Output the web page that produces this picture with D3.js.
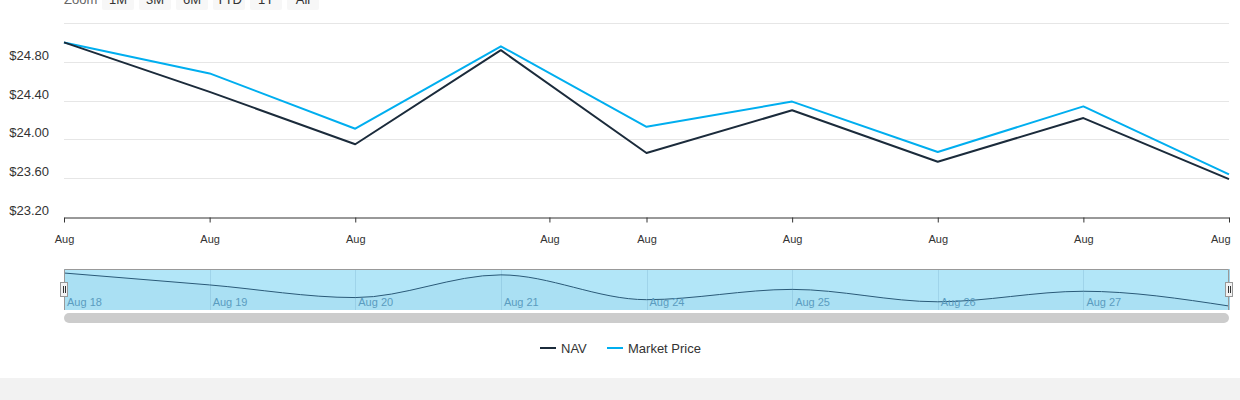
<!DOCTYPE html>
<html>
<head>
<meta charset="utf-8">
<script src="https://cdn.jsdelivr.net/npm/d3@7"></script>
<style>
  html, body { margin: 0; padding: 0; background: #fff; }
  svg { display: block; font-family: "Liberation Sans", Arial, sans-serif; }
</style>
</head>
<body>
<div id="chart"></div>
<script>

// data
const dates = ["2020-08-18","2020-08-19","2020-08-20","2020-08-21","2020-08-24",
	"2020-08-25","2020-08-26","2020-08-27","2020-08-28"];
const nav = [25.00, 24.49, 23.95, 24.92, 23.86, 24.30, 23.77, 24.22, 23.59];
const marketPrice = [25.00, 24.68, 24.11, 24.96, 24.13, 24.39, 23.87, 24.34, 23.64];
const yTicks = [23.2, 23.6, 24.0, 24.4, 24.8, 25.2];
const xTickDates = ["2020-08-18","2020-08-19","2020-08-20","2020-08-22","2020-08-24",
	"2020-08-25","2020-08-26","2020-08-27","2020-08-28"];
const zoomButtons = ["1M","3M","6M","YTD","1Y","All"];

const parse = d3.timeParse("%Y-%m-%d");
const days = dates.map(parse);

const width = 1240, height = 400;
const left = 64, right = 1229;
const step = (right - left) / (days.length - 1);

const svg = d3.select("#chart").append("svg")
	.attr("width", width)
	.attr("height", height);

// ordinal-like x scale (gaps for weekends are squeezed out)
const x = d3.scaleLinear()
	.domain(days)
	.range(days.map((d,i) => left + i*step));

const y = d3.scaleLinear()
	.domain([23.2, 25.2])
	.range([217, 23]);

// range selector
const rs = svg.append("g");
rs.append("text")
	.attr("x", left).attr("y", 4)
	.attr("font-size", 13).attr("fill", "#666")
	.text("Zoom");
const btn = rs.selectAll(".btn")
	.data(zoomButtons)
	.enter().append("g")
	.attr("transform", (d,i) => `translate(${102 + i*37},-12)`);
btn.append("rect")
	.attr("width", 32).attr("height", 22).attr("rx", 2)
	.attr("fill", "#f7f7f7");
btn.append("text")
	.attr("x", 16).attr("y", 16)
	.attr("text-anchor", "middle")
	.attr("font-size", 13).attr("fill", "#333")
	.text(d => d);

// grid
svg.append("g")
	.selectAll("line")
	.data(yTicks.filter(d => d > 23.2))
	.enter().append("line")
	.attr("x1", left).attr("x2", right)
	.attr("y1", d => Math.round(y(d)) + 0.5)
	.attr("y2", d => Math.round(y(d)) + 0.5)
	.attr("stroke", "#e6e6e6");

// y labels (last one hidden)
svg.append("g")
	.selectAll("text")
	.data(yTicks.slice(0, -1))
	.enter().append("text")
	.attr("x", 49)
	.attr("y", d => y(d) - 2)
	.attr("text-anchor", "end")
	.attr("font-size", 13)
	.attr("fill", "#333")
	.text(d => "$" + d.toFixed(2));

// x axis
const xAxis = d3.axisBottom(x)
	.tickValues(xTickDates.map(parse))
	.tickFormat(d3.timeFormat("%b"))
	.tickSize(5)
	.tickSizeOuter(0)
	.tickPadding(13);

const gx = svg.append("g")
	.attr("transform", "translate(0,217.5)")
	.call(xAxis);
gx.select(".domain").attr("stroke", "#333");
gx.selectAll(".tick line").attr("stroke", "#333");
gx.selectAll(".tick text")
	.attr("font-size", 11)
	.attr("font-family", "Liberation Sans, Arial, sans-serif")
	.attr("fill", "#333");
// keep the last label inside the plot
gx.selectAll(".tick text")
	.filter((d,i,n) => i === n.length - 1)
	.attr("text-anchor", "end")
	.attr("dx", 1);

// series
const series = [
	{name: "NAV", values: nav, color: "#1b2b3b"},
	{name: "Market Price", values: marketPrice, color: "#00aeef"}
];

const line = d3.line()
	.x((d,i) => x(days[i]))
	.y(d => y(d));

svg.append("g")
	.selectAll("path")
	.data(series.slice().reverse())
	.enter().append("path")
	.attr("d", d => line(d.values))
	.attr("fill", "none")
	.attr("stroke", d => d.color)
	.attr("stroke-width", 2)
	.attr("stroke-linejoin", "round");

// navigator
const navTop = 269, navBottom = 310;
const ny = d3.scaleLinear()
	.domain(d3.extent(nav))
	.range([306, 273]);

const ng = svg.append("g");
ng.append("rect")
	.attr("x", left).attr("y", navTop)
	.attr("width", right - left).attr("height", navBottom - navTop)
	.attr("fill", "#b2e6f8");

ng.selectAll(".ngrid")
	.data(days)
	.enter().append("line")
	.attr("x1", d => Math.round(x(d)) + 0.5)
	.attr("x2", d => Math.round(x(d)) + 0.5)
	.attr("y1", navTop).attr("y2", navBottom)
	.attr("stroke", "#9fd4ea");

const area = d3.area()
	.x((d,i) => x(days[i]))
	.y0(navBottom)
	.y1(d => ny(d))
	.curve(d3.curveMonotoneX);

ng.append("path")
	.attr("d", area(nav))
	.attr("fill", "#4a9cc4")
	.attr("fill-opacity", 0.08);

ng.append("path")
	.attr("d", area.lineY1()(nav))
	.attr("fill", "none")
	.attr("stroke", "#2a5a78")
	.attr("stroke-width", 1);

ng.selectAll(".nlab")
	.data(days.slice(0, -1))
	.enter().append("text")
	.attr("x", d => x(d) + 3)
	.attr("y", 306)
	.attr("font-size", 11)
	.attr("fill", "#5a9cc0")
	.text(d3.timeFormat("%b %d"));

// outline top
ng.append("path")
	.attr("d", `M${left+0.5},${navBottom}V${navTop+0.5}H${right-0.5}V${navBottom}`)
	.attr("fill", "none")
	.attr("stroke", "#999");

// handles
const handles = ng.selectAll(".handle")
	.data([left, right])
	.enter().append("g")
	.attr("transform", d => `translate(${d - 4},282)`);
handles.append("rect")
	.attr("x", 0.5).attr("y", 0.5)
	.attr("width", 7).attr("height", 14)
	.attr("fill", "#f2f2f2").attr("stroke", "#999");
handles.append("path")
	.attr("d", "M3.5,4V11M5.5,4V11")
	.attr("stroke", "#333").attr("stroke-width", 1);

// scrollbar
svg.append("rect")
	.attr("x", left).attr("y", 313)
	.attr("width", right - left).attr("height", 10)
	.attr("rx", 5)
	.attr("fill", "#cccccc");

// legend
const legend = svg.append("g")
	.attr("transform", "translate(0,348)");
const lx = [540, 607];
const li = legend.selectAll("g")
	.data(series)
	.enter().append("g")
	.attr("transform", (d,i) => `translate(${lx[i]},0)`);
li.append("line")
	.attr("x1", 0).attr("x2", 16)
	.attr("stroke", d => d.color)
	.attr("stroke-width", 2);
li.append("text")
	.attr("x", 21).attr("y", 4.5)
	.attr("font-size", 13)
	.attr("fill", "#333")
	.text(d => d.name);

// footer band
svg.append("rect")
	.attr("x", 0).attr("y", 378)
	.attr("width", width).attr("height", 22)
	.attr("fill", "#f2f2f2");

</script>
</body>
</html>
